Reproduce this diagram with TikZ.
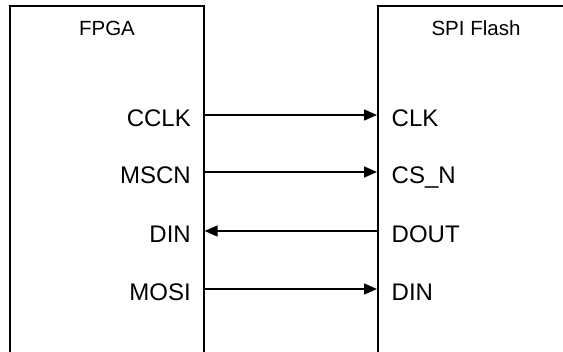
\documentclass[tikz,border=0pt]{standalone}
\usepackage{fontspec}
\setmainfont{Liberation Sans}
\usetikzlibrary{arrows.meta}
\begin{document}
\begin{tikzpicture}[x=1pt,y=1pt,
  chip/.style={draw, line width=1.6pt, anchor=north west, inner sep=0pt},
  title/.style={font=\fontsize{20.5}{24}\selectfont, anchor=base, inner sep=0pt},
  pinL/.style={font=\fontsize{24}{28}\selectfont, anchor=base east, inner sep=0pt},
  pinR/.style={font=\fontsize{24}{28}\selectfont, anchor=base west, inner sep=0pt},
  sig/.style={line width=1.5pt, -{Triangle[length=13pt,width=11pt]}}]
\useasboundingbox (0,0) rectangle (563,-352);
\clip (0,0) rectangle (563,-352);
\node[chip, minimum width=194pt, minimum height=400pt] (fpga) at (9,-5) {};
\node[chip, minimum width=250pt, minimum height=400pt] (flash) at (377,-5) {};
\node[title] (tf) at (107,-36) {FPGA};
\node[title] (ts) at (476,-36) {SPI Flash};
% pin labels
\node[pinL] (l1) at (191,-126.5) {CCLK};
\node[pinL] (l2) at (191,-183.5) {MSCN};
\node[pinL] (l3) at (191,-242.5) {DIN};
\node[pinL] (l4) at (191,-300.5) {MOSI};
\node[pinR] (r1) at (391.5,-126.5) {CLK};
\node[pinR] (r2) at (391.5,-183.5) {CS\_N};
\node[pinR] (r3) at (391.5,-242.5) {DOUT};
\node[pinR] (r4) at (391.5,-300.5) {DIN};
% pin points on box edges
\coordinate (a1) at (fpga.east |- 0,-115);
\coordinate (a2) at (fpga.east |- 0,-172);
\coordinate (a3) at (fpga.east |- 0,-231);
\coordinate (a4) at (fpga.east |- 0,-289);
\coordinate (b1) at (flash.west |- 0,-115);
\coordinate (b2) at (flash.west |- 0,-172);
\coordinate (b3) at (flash.west |- 0,-231);
\coordinate (b4) at (flash.west |- 0,-289);
\draw[sig] (a1) -- (b1);
\draw[sig] (a2) -- (b2);
\draw[sig] (b3) -- (a3);
\draw[sig] (a4) -- (b4);
\end{tikzpicture}
\end{document}
